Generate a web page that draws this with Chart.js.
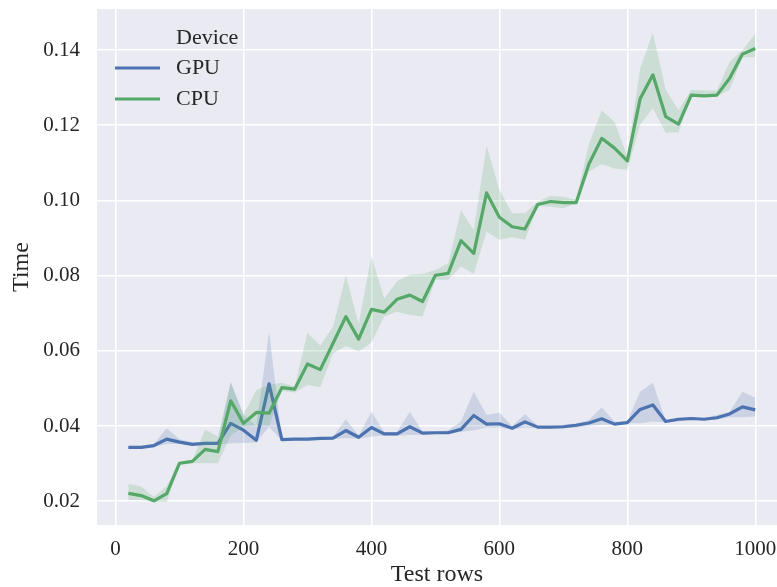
<!DOCTYPE html>
<html>
<head>
<meta charset="utf-8">
<script src="https://cdn.jsdelivr.net/npm/chart.js@4.4.0/dist/chart.umd.min.js"></script>
<style>
  html, body { margin: 0; padding: 0; background: #fff; }
  canvas { display: block; }
</style>
</head>
<body>
<canvas id="chart" width="777" height="587"></canvas>
<script>
const testRows = [20, 40, 60, 80, 100, 120, 140, 160, 180, 200,
  220, 240, 260, 280, 300, 320, 340, 360, 380, 400,
  420, 440, 460, 480, 500, 520, 540, 560, 580, 600,
  620, 640, 660, 680, 700, 720, 740, 760, 780, 800,
  820, 840, 860, 880, 900, 920, 940, 960, 980, 1000];

const gpuMean = [0.0343, 0.0343, 0.0348, 0.0365, 0.0357, 0.0351, 0.0354, 0.0354, 0.0407, 0.0389,
  0.0362, 0.0512, 0.0364, 0.0365, 0.0365, 0.0367, 0.0368, 0.0388, 0.0370, 0.0396,
  0.0379, 0.0379, 0.0398, 0.0381, 0.0382, 0.0382, 0.0391, 0.0428, 0.0405, 0.0406,
  0.0394, 0.0411, 0.0397, 0.0397, 0.0398, 0.0402, 0.0408, 0.0419, 0.0405, 0.0409,
  0.0444, 0.0456, 0.0412, 0.0418, 0.0420, 0.0418, 0.0422, 0.0432, 0.0451, 0.0443];
const gpuUpper = [0.0346, 0.0346, 0.0352, 0.0394, 0.0365, 0.0356, 0.0358, 0.0358, 0.0515, 0.0430,
  0.0400, 0.0650, 0.0368, 0.0368, 0.0368, 0.0370, 0.0372, 0.0418, 0.0374, 0.0438,
  0.0384, 0.0384, 0.0438, 0.0385, 0.0385, 0.0389, 0.0412, 0.0491, 0.0429, 0.0435,
  0.0400, 0.0432, 0.0400, 0.0400, 0.0403, 0.0407, 0.0416, 0.0449, 0.0412, 0.0412,
  0.0491, 0.0515, 0.0414, 0.0420, 0.0423, 0.0420, 0.0429, 0.0438, 0.0491, 0.0475];
const gpuLower = [0.0340, 0.0340, 0.0345, 0.0352, 0.0352, 0.0348, 0.0350, 0.0351, 0.0354, 0.0355,
  0.0356, 0.0398, 0.0361, 0.0362, 0.0361, 0.0363, 0.0365, 0.0368, 0.0366, 0.0372,
  0.0374, 0.0374, 0.0376, 0.0377, 0.0379, 0.0379, 0.0385, 0.0389, 0.0396, 0.0396,
  0.0391, 0.0396, 0.0394, 0.0394, 0.0394, 0.0396, 0.0400, 0.0403, 0.0403, 0.0407,
  0.0407, 0.0412, 0.0409, 0.0412, 0.0416, 0.0416, 0.0418, 0.0423, 0.0423, 0.0425];

const cpuMean = [0.0221, 0.0215, 0.0201, 0.0220, 0.0301, 0.0306, 0.0338, 0.0332, 0.0467, 0.0407,
  0.0436, 0.0434, 0.0502, 0.0498, 0.0565, 0.0550, 0.0620, 0.0691, 0.0631, 0.0710,
  0.0703, 0.0737, 0.0748, 0.0731, 0.0801, 0.0806, 0.0893, 0.0859, 0.1020, 0.0955,
  0.0930, 0.0924, 0.0989, 0.0997, 0.0994, 0.0994, 0.1097, 0.1165, 0.1139, 0.1105,
  0.1270, 0.1334, 0.1223, 0.1203, 0.1280, 0.1278, 0.1280, 0.1325, 0.1389, 0.1404];
const cpuUpper = [0.0246, 0.0239, 0.0212, 0.0240, 0.0305, 0.0309, 0.0391, 0.0372, 0.0518, 0.0430,
  0.0495, 0.0510, 0.0515, 0.0505, 0.0648, 0.0614, 0.0664, 0.0801, 0.0671, 0.0851,
  0.0739, 0.0785, 0.0802, 0.0804, 0.0815, 0.0832, 0.0974, 0.0921, 0.1145, 0.1028,
  0.0966, 0.0966, 0.0997, 0.1012, 0.1010, 0.1001, 0.1150, 0.1239, 0.1209, 0.1116,
  0.1351, 0.1446, 0.1294, 0.1240, 0.1294, 0.1292, 0.1292, 0.1369, 0.1400, 0.1443];
const cpuLower = [0.0203, 0.0203, 0.0198, 0.0198, 0.0296, 0.0301, 0.0301, 0.0301, 0.0375, 0.0398,
  0.0402, 0.0400, 0.0493, 0.0489, 0.0509, 0.0503, 0.0593, 0.0613, 0.0598, 0.0622,
  0.0691, 0.0704, 0.0695, 0.0691, 0.0789, 0.0789, 0.0824, 0.0804, 0.0917, 0.0895,
  0.0902, 0.0895, 0.0985, 0.0983, 0.0979, 0.0992, 0.1076, 0.1097, 0.1085, 0.1081,
  0.1201, 0.1245, 0.1180, 0.1181, 0.1276, 0.1276, 0.1276, 0.1294, 0.1381, 0.1381];

const xTicks = [0, 200, 400, 600, 800, 1000];
const yTicks = [0.02, 0.04, 0.06, 0.08, 0.10, 0.12, 0.14];
const seriesNames = ['GPU', 'CPU'];
const legendTitle = 'Device';

const BLUE = '#4c72b0';
const GREEN = '#55a868';
const FONT = '"Liberation Serif", "Times New Roman", serif';
const TEXT = '#262626';

const pts = arr => arr.map((v, i) => ({ x: testRows[i], y: v }));

function band(arr, color, order, fill) {
  return {
    data: pts(arr),
    borderWidth: 0,
    pointRadius: 0,
    backgroundColor: color,
    fill: fill,
    order: order,
    isBand: true
  };
}

function line(label, arr, color, order) {
  return {
    label: label,
    data: pts(arr),
    borderColor: color,
    backgroundColor: color,
    borderWidth: 3.2,
    borderJoinStyle: 'round',
    pointRadius: 0,
    fill: false,
    order: order
  };
}

function noPad(s) {
  s.paddingTop = 0;
  s.paddingBottom = 0;
  s.paddingLeft = 0;
  s.paddingRight = 0;
}

const plotBg = {
  id: 'plotBg',
  beforeDraw(chart) {
    const { ctx, chartArea: a } = chart;
    ctx.save();
    ctx.fillStyle = '#eaeaf2';
    ctx.fillRect(a.left, a.top, a.right - a.left, a.bottom - a.top);
    ctx.restore();
  }
};

// seaborn style legend: title on top, short line swatches
const sbLegend = {
  id: 'sbLegend',
  afterDraw(chart) {
    const { ctx, chartArea: a } = chart;
    const entries = chart.data.datasets.filter(d => !d.isBand);
    ctx.save();
    ctx.font = '22px ' + FONT;
    ctx.fillStyle = TEXT;
    ctx.textBaseline = 'middle';
    ctx.fillText(legendTitle, a.left + 79, a.top + 29);
    entries.forEach((d, i) => {
      const y = a.top + 59 + i * 31;
      ctx.strokeStyle = d.borderColor;
      ctx.lineWidth = 3.2;
      ctx.beginPath();
      ctx.moveTo(a.left + 18, y);
      ctx.lineTo(a.left + 63, y);
      ctx.stroke();
      ctx.fillStyle = TEXT;
      ctx.fillText(d.label, a.left + 79, y);
    });
    ctx.restore();
  }
};

new Chart(document.getElementById('chart'), {
  type: 'line',
  data: {
    datasets: [
      band(gpuUpper, 'rgba(76,114,176,0.2)', 3, '+1'),
      band(gpuLower, 'rgba(76,114,176,0.2)', 3, false),
      line(seriesNames[0], gpuMean, BLUE, 2),
      band(cpuUpper, 'rgba(85,168,104,0.2)', 1, '+1'),
      band(cpuLower, 'rgba(85,168,104,0.2)', 1, false),
      line(seriesNames[1], cpuMean, GREEN, 0)
    ]
  },
  options: {
    responsive: false,
    animation: false,
    layout: { padding: { top: 9, right: 0, left: 0, bottom: 0 } },
    plugins: {
      legend: { display: false },
      tooltip: { enabled: false }
    },
    elements: { line: { tension: 0 } },
    scales: {
      x: {
        type: 'linear',
        min: -29,
        max: 1034,
        afterBuildTicks: s => { s.ticks = xTicks.map(v => ({ value: v })); },
        afterFit: s => { s.height = 62; noPad(s); },
        grid: { color: '#ffffff', lineWidth: 1.5, drawTicks: false },
        border: { display: false },
        ticks: {
          padding: 12,
          color: TEXT,
          font: { family: FONT, size: 21 },
          maxRotation: 0,
          callback: v => String(v)
        },
        title: {
          display: true,
          text: 'Test rows',
          color: TEXT,
          font: { family: FONT, size: 24, lineHeight: 1 },
          padding: { top: 0, bottom: 0 }
        }
      },
      y: {
        type: 'linear',
        min: 0.01367,
        max: 0.1509,
        afterBuildTicks: s => { s.ticks = yTicks.map(v => ({ value: v })); },
        afterFit: s => { s.width = 97; noPad(s); },
        grid: { color: '#ffffff', lineWidth: 1.5, drawTicks: false },
        border: { display: false },
        ticks: {
          padding: 17,
          color: TEXT,
          font: { family: FONT, size: 21 },
          callback: v => v.toFixed(2)
        },
        title: {
          display: true,
          text: 'Time',
          color: TEXT,
          font: { family: FONT, size: 24, lineHeight: 1 },
          padding: { top: 10, bottom: 0 }
        }
      }
    }
  },
  plugins: [plotBg, sbLegend]
});
</script>
</body>
</html>
